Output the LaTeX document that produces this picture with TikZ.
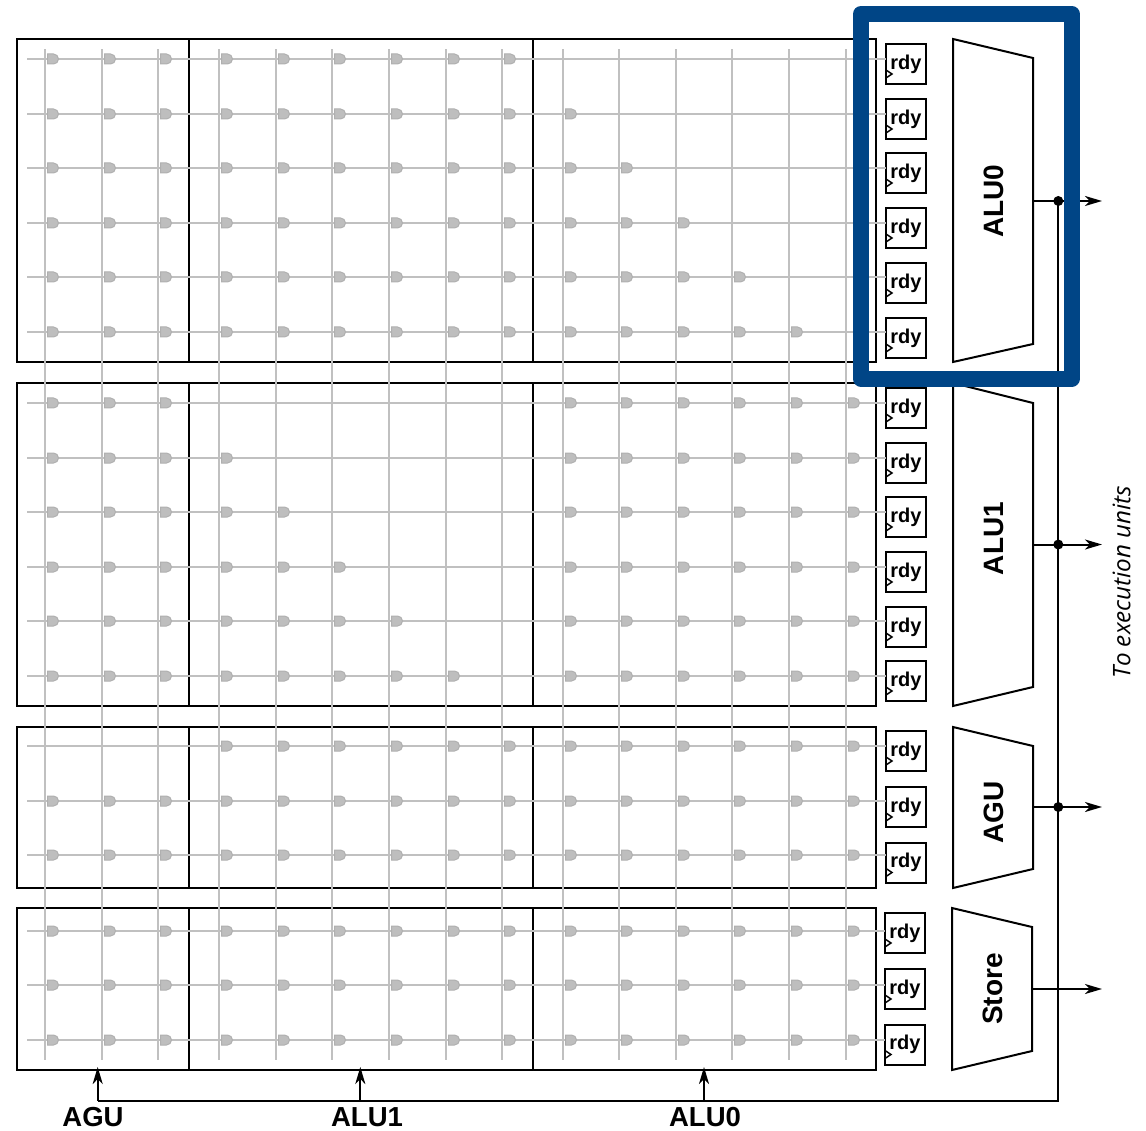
\documentclass[tikz,border=0pt]{standalone}
\usepackage{fontspec}
\setmainfont{Liberation Sans}
\newfontfamily\italfont{Open Sans}
\usetikzlibrary{arrows.meta,calc}
\definecolor{wiregray}{HTML}{C0C0C0}
\definecolor{gateedge}{HTML}{B0B0B0}
\definecolor{gategray}{HTML}{BEBEBE}
\definecolor{hiblue}{HTML}{004586}
\tikzset{
  block/.style={draw=black,line width=2pt,fill=white},
  wire/.style={draw=wiregray,line width=1.9pt},
  gatepath/.style={draw=gateedge,line width=1pt,fill=gategray},
  rdybox/.style={draw=black,line width=2pt,fill=white,minimum width=40pt,minimum height=40pt,inner sep=0pt,outer sep=0pt,font=\bfseries\fontsize{20}{20}\selectfont},
  clk/.style={draw=black,line width=1.5pt},
  alu/.style={draw=black,line width=2pt,fill=white},
  alulabel/.style={font=\bfseries\fontsize{28}{28}\selectfont,rotate=90,inner sep=0pt},
  bottomlabel/.style={font=\bfseries\fontsize{27.5}{27.5}\selectfont,inner sep=0pt},
  bus/.style={draw=black,line width=2pt},
  arr/.style={draw=black,line width=2pt,-{Stealth[length=17pt,width=10pt,inset=5pt]}},
  jdot/.style={circle,fill=black,inner sep=0pt,minimum size=10pt},
  highlight/.style={draw=hiblue,line width=16pt,line join=round}
}
% \gates{y}{list of x}
\newcommand{\gates}[2]{\edef\gatelist{#2}\foreach \gx in \gatelist {\draw[gatepath] (\gx+2.5,#1-5) -- (\gx+8.5,#1-5) arc[start angle=-90,end angle=90,radius=5] -- (\gx+2.5,#1+5) -- cycle;}}
\begin{document}
\begin{tikzpicture}[x=1pt,y=-1pt]
\useasboundingbox (0,0) rectangle (1146,1131);
% blocks
\foreach \name/\ta/\tb in {a/39/362,b/383/706,c/727/888,d/908/1070}{
  \draw[block] (17,\ta) rectangle (876,\tb);
  \draw[block] (189,\ta) -- (189,\tb);
  \draw[block] (533,\ta) -- (533,\tb);
}
% vertical wires
\foreach \x in {45,102,158,219,276,332,389,446,502,563,619,676,732,789,846}{
  \draw[wire] (\x,49.5) -- (\x,1060);
}
% rdy boxes and horizontal wires
\foreach \n/\y/\t/\lx in {
 a0/59/44/886,a1/114/99/886,a2/168/153/886,a3/223/208/886,a4/277/263/886,a5/332/318/886,
 b0/403/388/886,b1/458/443/886,b2/512/497/886,b3/567/552/886,b4/621/607/886,b5/676/661/886,
 c0/746/731/886,c1/801/787/886,c2/855/842.5/886,
 d0/931/913/885,d1/985/969/885,d2/1040/1024.5/885}{
  \coordinate (s\n) at (27,\y);
  \node[rdybox] (r\n) at (\lx+20,\t+20) {\raisebox{-1.8pt}{rdy}};
  \draw[wire] (s\n) -- (r\n.west |- s\n);
  \draw[clk] ($(r\n.south west)+(0,-14)$) -- ($(r\n.south west)+(6,-10)$) -- ($(r\n.south west)+(0,-6)$);
}
% gates
\def\cA{45,102,158}
\def\cB{219,276,332,389,446,502}
\def\cC{563,619,676,732,789,846}
\gates{59}{\cA,\cB}
\gates{114}{\cA,\cB,563}
\gates{168}{\cA,\cB,563,619}
\gates{223}{\cA,\cB,563,619,676}
\gates{277}{\cA,\cB,563,619,676,732}
\gates{332}{\cA,\cB,563,619,676,732,789}
\gates{403}{\cA,\cC}
\gates{458}{\cA,219,\cC}
\gates{512}{\cA,219,276,\cC}
\gates{567}{\cA,219,276,332,\cC}
\gates{621}{\cA,219,276,332,389,\cC}
\gates{676}{\cA,219,276,332,389,446,\cC}
\gates{746}{\cB,\cC}
\gates{801}{\cA,\cB,\cC}
\gates{855}{\cA,\cB,\cC}
\gates{931}{\cA,\cB,\cC}
\gates{985}{\cA,\cB,\cC}
\gates{1040}{\cA,\cB,\cC}
% execution units
\draw[alu] (953,39) -- (1033,58) -- (1033,344) -- (953,362) -- cycle;
\draw[alu] (953,383) -- (1033,403) -- (1033,687) -- (953,706) -- cycle;
\draw[alu] (953,727) -- (1033,746) -- (1033,869) -- (953,888) -- cycle;
\draw[alu] (952,908) -- (1032,927) -- (1032,1051) -- (952,1070) -- cycle;
\node[alulabel] (l0) at (994,201) {ALU0};
\node[alulabel] (l1) at (994,538.5) {ALU1};
\node[alulabel] (l2) at (994,812.5) {AGU};
\node[alulabel] (l3) at (992.5,989) {Store};
% coordinates
\coordinate (o0) at (1033,201); \coordinate (e0) at (1102,201);
\coordinate (o1) at (1033,544.5); \coordinate (e1) at (1102,544.5);
\coordinate (o2) at (1033,807); \coordinate (e2) at (1102,807);
\coordinate (o3) at (1032,989); \coordinate (e3) at (1102,989);
\node[jdot] (j0) at (1058.3,201) {};
\node[jdot] (j1) at (1058.3,544.5) {};
\node[jdot] (j2) at (1058.3,807) {};
\coordinate (corner) at (1058.3,1100.5);
\coordinate (bl) at (97.7,1100.5);
\coordinate (bm) at (360.3,1100.5);
\coordinate (br) at (704,1100.5);
\coordinate (tl) at (97.7,1067);
\coordinate (tm) at (360.3,1067);
\coordinate (tr) at (704,1067);
\draw[bus] (j0.center) -- (corner) -- (bl);
\foreach \i in {0,1,2,3}{\draw[arr] (o\i) -- (e\i);}
\draw[arr] (bl) -- (tl);
\draw[arr] (bm) -- (tm);
\draw[arr] (br) -- (tr);
\node[bottomlabel] (bA) at (93,1117.5) {AGU};
\node[bottomlabel] (bB) at (367,1117.5) {ALU1};
\node[bottomlabel] (bC) at (705,1117.5) {ALU0};
\node[rotate=90,font=\italfont\itshape\fontsize{24.2}{24}\selectfont,inner sep=0pt] (te) at (1121.5,582.5) {To execution units};
% highlight
\draw[highlight] (861,14) rectangle (1071.7,378.7);
\end{tikzpicture}
\end{document}
